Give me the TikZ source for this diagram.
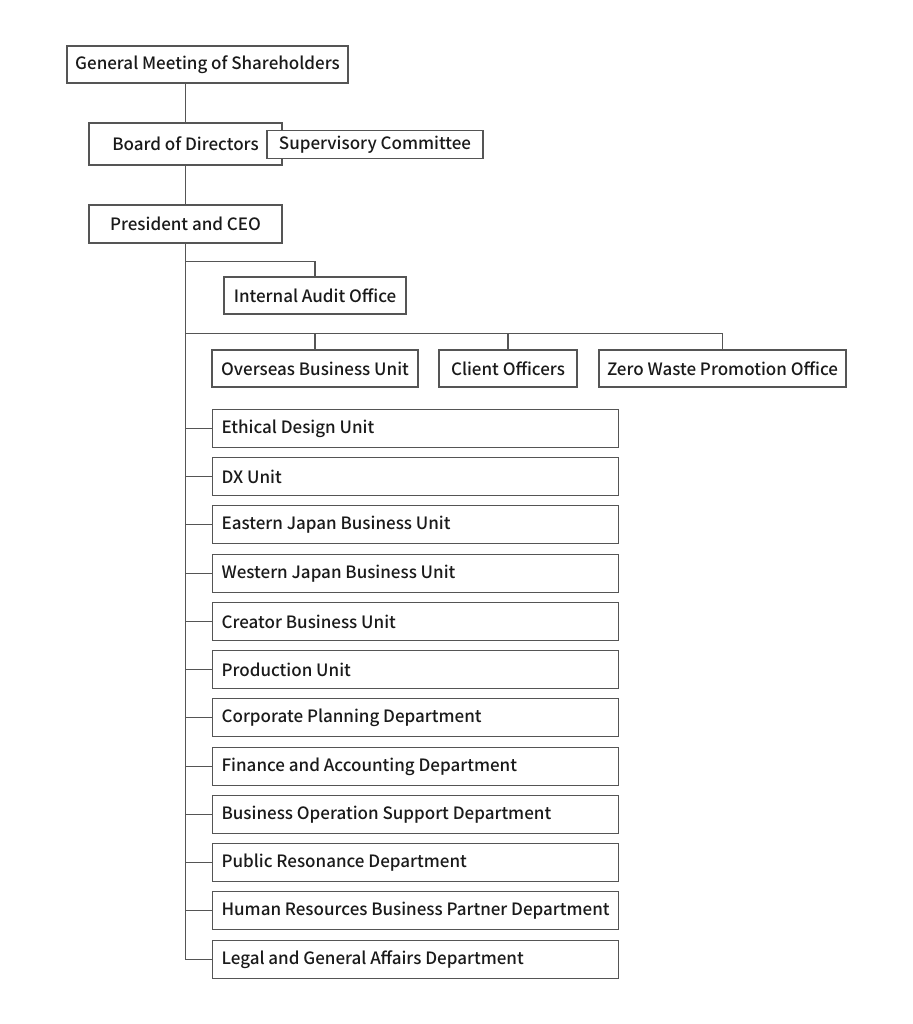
\documentclass[tikz,border=0pt]{standalone}
\usepackage{fontspec}
\setmainfont{Noto Sans CJK JP}[UprightFont={* Medium}]
\begin{document}
\begin{tikzpicture}[x=1pt,y=-1pt]
  \tikzset{
    orgbox/.style={rectangle,draw=linegray,line width=1.2pt,fill=white,
      text=textdark,inner sep=0pt,minimum height=37pt,font=\fontsize{17}{20}\selectfont},
    unitbox/.style={orgbox,anchor=west,minimum height=38pt,text width=388pt,
      align=flush left,inner xsep=9pt},
    link/.style={draw=linegray,line width=1.2pt}
  }
  \definecolor{linegray}{HTML}{555555}
  \definecolor{textdark}{HTML}{1A1A1A}
  \useasboundingbox (0,0) rectangle (912,1024);
  \node[orgbox,minimum width=281pt] (gm) at (207.5,64.5) {General Meeting of Shareholders};
  \node[orgbox,minimum width=193pt,minimum height=42pt] (board) at (185.5,144) {Board of Directors};
  \node[orgbox,minimum width=216pt,minimum height=28pt] (superv) at (375,144.5) {Supervisory Committee};
  \node[orgbox,minimum width=193pt,minimum height=38pt] (ceo) at (185.5,224) {President and CEO};
  \node[orgbox,minimum width=182pt] (audit) at (315,295.5) {Internal Audit Office};
  \node[orgbox,minimum width=206pt] (overseas) at (315,368.5) {Overseas Business Unit};
  \node[orgbox,minimum width=138pt] (client) at (508,368.5) {Client Officers};
  \node[orgbox,minimum width=247pt] (zerowaste) at (722.5,368.5) {Zero Waste Promotion Office};
  \node[unitbox] (ethical) at (212,428.5) {Ethical Design Unit};
  \node[unitbox] (dx) at (212,476.5) {DX Unit};
  \node[unitbox] (eastjp) at (212,524.5) {Eastern Japan Business Unit};
  \node[unitbox] (westjp) at (212,573.5) {Western Japan Business Unit};
  \node[unitbox] (creator) at (212,621.5) {Creator Business Unit};
  \node[unitbox] (production) at (212,669.5) {Production Unit};
  \node[unitbox] (corpplan) at (212,717.5) {Corporate Planning Department};
  \node[unitbox] (finance) at (212,766.5) {Finance and Accounting Department};
  \node[unitbox] (bizops) at (212,814.5) {Business Operation Support Department};
  \node[unitbox] (publicres) at (212,862.5) {Public Resonance Department};
  \node[unitbox] (hrbp) at (212,910.5) {Human Resources Business Partner Department};
  \node[unitbox] (legal) at (212,959.5) {Legal and General Affairs Department};
  \coordinate (auditjoin) at ([yshift=-18pt]ceo.south);
  \coordinate (rowjoin) at ([yshift=-90pt]ceo.south);
  \draw[link] (board.north |- gm.south) -- (board.north);
  \draw[link] (board.south) -- (ceo.north);
  \draw[link] (ceo.south) |- (legal.west);
  \draw[link] (auditjoin) -| (audit.north);
  \draw[link] (rowjoin) -| (zerowaste.north);
  \draw[link] (overseas.north |- rowjoin) -- (overseas.north);
  \draw[link] (client.north |- rowjoin) -- (client.north);
  \foreach \unit in {ethical,dx,eastjp,westjp,creator,production,corpplan,finance,bizops,publicres,hrbp}
    \draw[link] (ceo.south |- \unit.west) -- (\unit.west);
\end{tikzpicture}
\end{document}
